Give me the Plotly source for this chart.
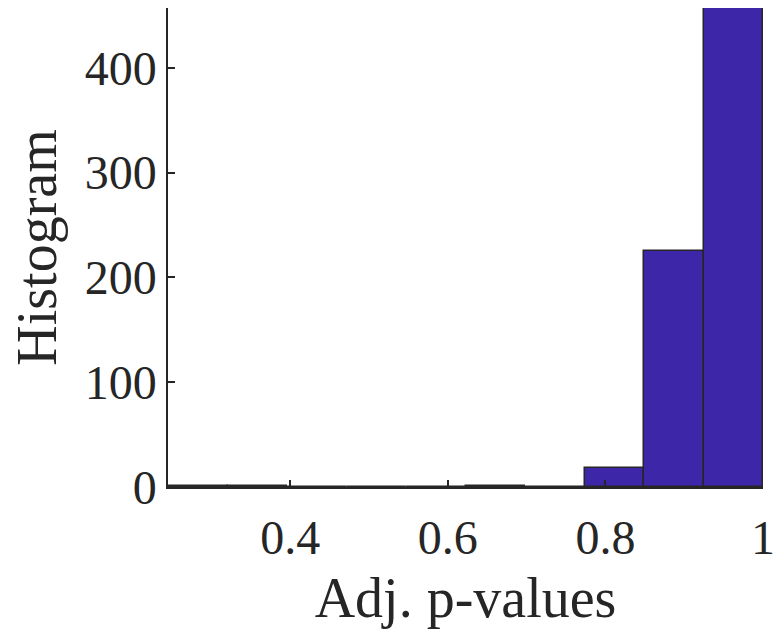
import plotly.graph_objects as go

# Histogram of adjusted p-values (10 equal bins between min and max)
bin_start = 0.245
bin_end = 1.0
counts = [1, 1, 0, 0, 0, 1, 0, 18, 225, 457]
x_ticks = [0.4, 0.6, 0.8, 1.0]
x_tick_labels = ["0.4", "0.6", "0.8", "1"]
y_ticks = [0, 100, 200, 300, 400]
y_tick_labels = ["0", "100", "200", "300", "400"]

n = len(counts)
w = (bin_end - bin_start) / n
centers = [bin_start + w * (i + 0.5) for i in range(n)]

font_family = "Liberation Serif, Times New Roman, serif"

fig = go.Figure(go.Bar(
    x=centers, y=counts, width=[w] * n,
    marker=dict(color="#3E26A8", line=dict(color="#262626", width=1.5)),
))

fig.update_layout(
    width=776, height=629,
    margin=dict(l=168, r=13, t=8, b=142, autoexpand=False),
    plot_bgcolor="white", paper_bgcolor="white",
    showlegend=False, bargap=0,
    font=dict(family=font_family, size=48, color="#262626"),
)
fig.update_xaxes(
    range=[bin_start, bin_end], tickvals=x_ticks, ticktext=x_tick_labels,
    showline=True, linecolor="#262626", linewidth=1.5, mirror=False,
    ticks="inside", ticklen=7, tickwidth=1.5, tickcolor="#262626",
    showgrid=False, zeroline=False, ticklabeloverflow="allow",
    ticklabelstandoff=8, automargin=False,
    title=dict(text="Adj. p-values", font=dict(size=56), standoff=14),
    tickfont=dict(size=48),
)
fig.update_yaxes(
    range=[0, 457], tickvals=y_ticks, ticktext=y_tick_labels,
    showline=True, linecolor="#262626", linewidth=1.5, mirror=False,
    ticks="inside", ticklen=7, tickwidth=1.5, tickcolor="#262626",
    showgrid=False, zeroline=False, automargin=False,
    title=dict(text="Histogram", font=dict(size=56), standoff=10),
    tickfont=dict(size=48),
)

fig.write_html("out.html")
